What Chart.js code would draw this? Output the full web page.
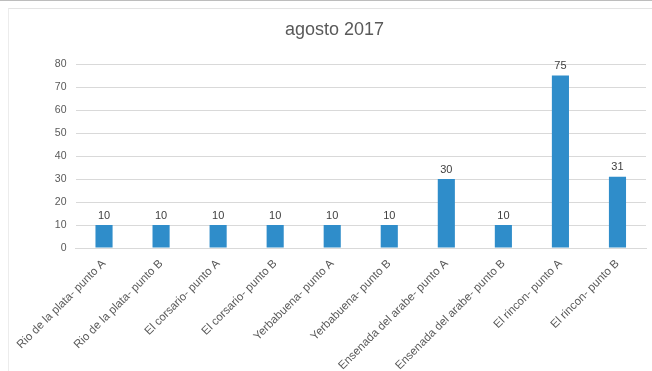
<!DOCTYPE html>
<html><head><meta charset="utf-8">
<script src="https://cdn.jsdelivr.net/npm/chart.js@4/dist/chart.umd.min.js"></script>
<style>
html,body{margin:0;padding:0;background:#fff;}
#wrap{position:relative;width:652px;height:371px;}
#frame{position:absolute;left:8px;top:8px;right:0;bottom:0;border-left:1px solid #ececec;border-top:1px solid #e4e4e4;pointer-events:none;}
#topline{position:absolute;left:0;top:0;width:652px;height:1px;background:#bdbdbd;}
</style></head>
<body><div id="wrap"><canvas id="c" width="652" height="371"></canvas><div id="frame"></div><div id="topline"></div></div>
<script>
const categories = ["Rio de la plata- punto A","Rio de la plata- punto B","El corsario- punto A","El corsario- punto B","Yerbabuena- punto A","Yerbabuena- punto B","Ensenada del arabe- punto A","Ensenada del arabe- punto B","El rincon- punto A","El rincon- punto B"];
const values = [10,10,10,10,10,10,30,10,75,31];
const yTicks = [0,10,20,30,40,50,60,70,80];
const title = "agosto 2017";

const labelPlugin = {
  id:'valueLabels',
  afterDatasetsDraw(chart){
    const ctx = chart.ctx;
    const meta = chart.getDatasetMeta(0);
    ctx.save();
    ctx.font = '11px "Liberation Sans", Arial, sans-serif';
    ctx.fillStyle = '#404040';
    ctx.textAlign = 'center';
    ctx.textBaseline = 'bottom';
    meta.data.forEach((bar,i)=>{
      ctx.fillText(String(values[i]), bar.x, bar.y - 4);
    });
    ctx.restore();
  }
};

new Chart(document.getElementById('c'),{
  type:'bar',
  data:{labels:categories,datasets:[{data:values,backgroundColor:'#2F8DCA',borderWidth:0,barPercentage:0.6,categoryPercentage:0.5}]},
  options:{
    responsive:false,animation:false,
    layout:{padding:{left:23,right:6,top:10,bottom:0}},
    plugins:{
      legend:{display:false},tooltip:{enabled:false},
      title:{display:true,text:title,color:'#595959',font:{family:'"Liberation Sans", Arial, sans-serif',size:18,weight:'normal'},padding:{top:9,bottom:23.5}}
    },
    scales:{
      x:{
        grid:{display:false},
        border:{color:'#d9d9d9'},
        ticks:{color:'#595959',font:{family:'"Liberation Sans", Arial, sans-serif',size:11.5},minRotation:45,maxRotation:45,autoSkip:false,padding:1},
        afterFit(s){s.height = 123;}
      },
      y:{
        min:0,max:80,
        afterBuildTicks(s){s.ticks = yTicks.map(v=>({value:v}));},
        grid:{color:'#d9d9d9',drawTicks:false},
        border:{display:false},
        ticks:{color:'#595959',font:{family:'"Liberation Sans", Arial, sans-serif',size:10.5},padding:9},
        afterFit(s){s.width = 52.5;}
      }
    }
  },
  plugins:[labelPlugin]
});
</script></body></html>
